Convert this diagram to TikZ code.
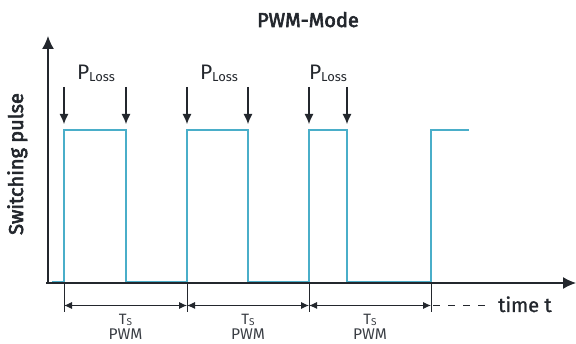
\documentclass[tikz,border=0pt]{standalone}
\usepackage{fontspec}
\setmainfont{Fira Sans}
\newfontfamily\semib[FakeBold=3]{Fira Sans}
\newfontfamily\medi[FakeBold=1.2]{Fira Sans}
\usetikzlibrary{arrows.meta}
\definecolor{sig}{HTML}{4AAEC9}
\definecolor{ink}{HTML}{23272D}
\definecolor{lab}{HTML}{3A3E44}
\begin{document}
\begin{tikzpicture}[x=1pt,y=-1pt,
  axis/.style={draw=ink,line width=1.3pt,-{Latex[length=13pt,width=12pt]}},
  signal/.style={draw=sig,line width=1.8pt,line join=miter},
  loss/.style={draw=ink,line width=1.1pt,-{Latex[length=10pt,width=9pt]}},
  tick/.style={draw=ink,line width=0.8pt},
  dim/.style={draw=ink,line width=0.9pt,{Latex[length=8pt,width=7pt]}-{Latex[length=8pt,width=7pt]}},
  lbl/.style={inner sep=0pt,anchor=base,text=lab},
  every node/.style={inner sep=0pt}]
\useasboundingbox (0,0) rectangle (576,344);
% title
\node[anchor=base,text=ink,font=\semib\fontsize{20}{22}\selectfont] (title) at (308,27) {PWM-Mode};
% y label
\node[anchor=base,rotate=90,text=ink,font=\semib\fontsize{20}{22}\selectfont] (ylab) at (23,164) {Switching pulse};
% axes
\coordinate (o) at (48,283);
\coordinate (ytop) at (48,36);
\coordinate (xl) at (46,283);
\coordinate (xr) at (576,283);
% signal
\draw[signal] (52,282) -- (64,282) -- (64,130) -- (126,130) -- (126,282) -- (187,282) -- (187,130) -- (248,130) -- (248,282) -- (309,282) -- (309,130) -- (347,130) -- (347,282) -- (431,282) -- (431,130) -- (469,130);
\draw[axis] (o) -- (ytop);
\draw[axis] (xl) -- (xr);
% loss arrows
\foreach \n/\x in {a/64,b/126,c/187,d/248,e/309,f/347}{
  \coordinate (ls\n) at (\x,87);
  \coordinate (le\n) at (\x,124);
  \draw[loss] (ls\n) -- (le\n);
}
\foreach \n/\x in {1/96,2/219,3/328}{
  \node[lbl,font=\fontsize{21}{23}\selectfont,text=ink] (pl\n) at (\x,80) {P\raisebox{-1.5pt}{\fontsize{13}{14}\selectfont Loss}};
}
% ticks
\foreach \n/\x in {1/64,2/187,3/309,4/431}{
  \coordinate (tt\n) at (\x,283);
  \coordinate (tb\n) at (\x,312);
  \coordinate (tm\n) at (\x,305.5);
  \draw[tick] (tt\n) -- (tb\n);
}
\draw[dim] (tm1) -- (tm2);
\draw[dim] (tm2) -- (tm3);
\draw[dim] (tm3) -- (tm4);
\coordinate (dend) at (490,305.5);
\draw[ink,line width=0.9pt,dash pattern=on 7pt off 8pt] (tm4) ++(2,0) -- (dend);
\node[anchor=base west,text=ink,font=\medi\fontsize{20}{22}\selectfont] (time) at (498,312) {time t};
\foreach \n/\x in {1/125.5,2/248,3/370}{
  \node[lbl,font=\fontsize{15}{17}\selectfont] (ts\n) at (\x,325) {T\raisebox{-1pt}{\fontsize{10}{11}\selectfont S}};
  \node[lbl,font=\fontsize{15.5}{18}\selectfont] (pw\n) at (\x,340) {PWM};
}
\end{tikzpicture}
\end{document}
